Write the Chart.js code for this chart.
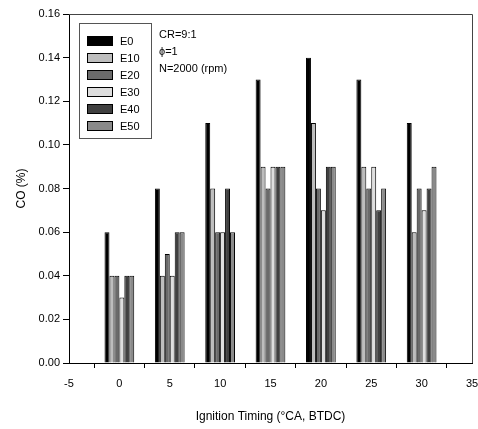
<!DOCTYPE html>
<html>
<head>
<meta charset="utf-8">
<script src="https://cdn.jsdelivr.net/npm/chart.js@4"></script>
<style>
  body { margin: 0; background: #fff; }
  #wrap { width: 478px; height: 429px; }
</style>
</head>
<body>
<div id="wrap"><canvas id="co"></canvas></div>
<script>
const timing = [0, 5, 10, 15, 20, 25, 30];
const E0  = [0.06, 0.08, 0.11, 0.13, 0.14, 0.13, 0.11];
const E10 = [0.04, 0.04, 0.08, 0.09, 0.11, 0.09, 0.06];
const E20 = [0.04, 0.05, 0.06, 0.08, 0.08, 0.08, 0.08];
const E30 = [0.03, 0.04, 0.06, 0.09, 0.07, 0.09, 0.07];
const E40 = [0.04, 0.06, 0.08, 0.09, 0.09, 0.07, 0.08];
const E50 = [0.04, 0.06, 0.06, 0.09, 0.09, 0.08, 0.09];
const notes = ['CR=9:1', '\u03D5=1', 'N=2000 (rpm)'];

const font = { family: 'Liberation Sans, Arial, sans-serif', size: 11 };

function mk(label, vals, fill) {
  return {
    label: label,
    data: timing.map((t, i) => ({ x: t, y: vals[i] })),
    backgroundColor: fill,
    borderColor: '#000',
    borderWidth: 1,
    borderSkipped: 'bottom'
  };
}

const framePlugin = {
  id: 'frame',
  afterDraw(chart) {
    const { ctx, chartArea: a } = chart;
    ctx.save();
    ctx.strokeStyle = '#444';
    ctx.lineWidth = 1;
    ctx.beginPath();
    ctx.moveTo(a.left, a.top + 0.5);
    ctx.lineTo(a.right + 0.5, a.top + 0.5);
    ctx.lineTo(a.right + 0.5, a.bottom);
    ctx.stroke();

    // legend box
    const lx = 79, ly = 23;
    ctx.strokeStyle = '#555';
    ctx.strokeRect(lx + 0.5, ly + 0.5, 72, 115);
    ctx.font = '11px ' + font.family;
    ctx.textBaseline = 'middle';
    chart.data.datasets.forEach((ds, i) => {
      const y = ly + 18 + i * 17;
      ctx.fillStyle = ds.backgroundColor;
      ctx.fillRect(lx + 8, y - 5, 26, 10);
      ctx.strokeStyle = '#000';
      ctx.strokeRect(lx + 8.5, y - 4.5, 25, 9);
      ctx.fillStyle = '#000';
      ctx.fillText(ds.label, lx + 41, y + 1);
    });

    // condition notes
    notes.forEach((t, i) => {
      ctx.fillText(t, 159, 35 + i * 17);
    });
    ctx.restore();
  }
};

new Chart(document.getElementById('co'), {
  type: 'bar',
  data: {
    datasets: [
      mk('E0', E0, '#000000'),
      mk('E10', E10, '#bdbdbd'),
      mk('E20', E20, '#6a6a6a'),
      mk('E30', E30, '#dedede'),
      mk('E40', E40, '#404040'),
      mk('E50', E50, '#8a8a8a')
    ]
  },
  options: {
    responsive: true,
    maintainAspectRatio: false,
    animation: false,
    layout: { padding: { top: 14, right: 6, left: 0, bottom: 0 } },
    datasets: { bar: { barPercentage: 1, categoryPercentage: 0.59 } },
    plugins: { legend: { display: false }, tooltip: { enabled: false } },
    scales: {
      x: {
        type: 'linear',
        offset: false,
        min: -5, max: 35,
        grid: { drawOnChartArea: false, tickLength: 5, color: '#000' },
        border: { color: '#000' },
        ticks: { stepSize: 5, color: '#000', font: font, padding: 9 },
        title: { display: true, text: 'Ignition Timing (\u00B0CA, BTDC)', color: '#000', font: { family: font.family, size: 12 }, padding: { top: 0, bottom: 5 } },
        afterFit(s) { s.height = 66; s.paddingLeft = 0; s.paddingRight = 0; }
      },
      y: {
        min: 0, max: 0.16,
        grid: { drawOnChartArea: false, tickLength: 6, color: '#000' },
        border: { color: '#000' },
        ticks: { stepSize: 0.02, color: '#000', font: font, padding: 3, callback: v => v.toFixed(2) },
        title: { display: true, text: 'CO (%)', color: '#000', font: { family: font.family, size: 12 }, padding: { top: 14, bottom: 6 } },
        afterFit(s) { s.width = 69; s.paddingTop = 0; s.paddingBottom = 0; }
      }
    }
  },
  plugins: [framePlugin]
});
</script>
</body>
</html>
